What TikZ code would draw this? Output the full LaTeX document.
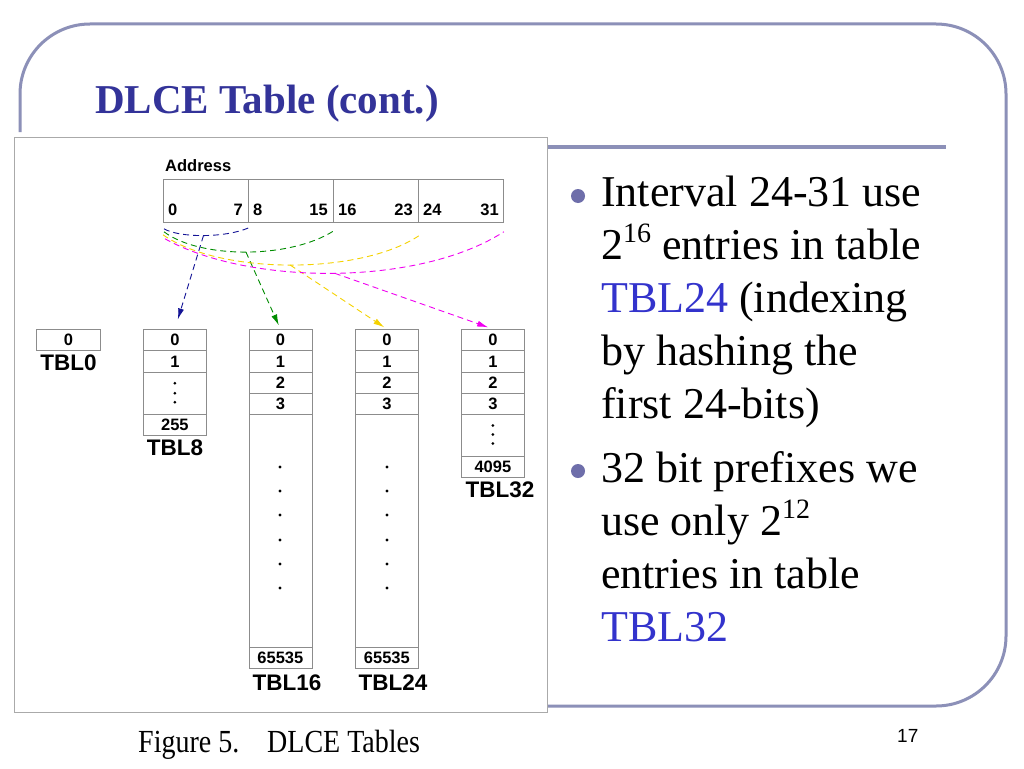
\documentclass[tikz,border=0pt]{standalone}
\usepackage{fontspec}
\setmainfont{Liberation Serif}
\setsansfont{Liberation Sans}
\usetikzlibrary{arrows.meta,calc}
\definecolor{framec}{RGB}{140,144,184}
\definecolor{titlec}{RGB}{51,51,153}
\definecolor{linkc}{RGB}{51,51,204}
\definecolor{bulletc}{RGB}{110,110,170}
\definecolor{boxgray}{RGB}{140,140,140}
\definecolor{figgray}{RGB}{170,170,170}
\definecolor{arrblue}{RGB}{20,20,150}
\definecolor{arrgreen}{RGB}{0,140,0}
\definecolor{arryellow}{RGB}{245,210,0}
\definecolor{arrmag}{RGB}{240,0,240}
\begin{document}
\begin{tikzpicture}[x=1pt,y=-1pt,
  cell/.style={draw=boxgray, line width=0.8pt, anchor=north west, minimum width=63pt, minimum height=21.3pt, inner sep=0pt, font=\sffamily\bfseries\fontsize{16.5}{16.5}\selectfont},
  field/.style={draw=boxgray, line width=0.8pt, anchor=north west, minimum width=85pt, minimum height=43pt, inner sep=0pt},
  fnum/.style={inner sep=0pt, font=\sffamily\bfseries\fontsize{16.5}{16.5}\selectfont},
  tlabel/.style={inner sep=0pt, font=\sffamily\bfseries\fontsize{22.5}{22.5}\selectfont},
  conn/.style={line width=0.9pt, dash pattern=on 6pt off 4pt},
  tip/.style={-{Latex[length=11pt,width=6pt]}},
  btext/.style={anchor=base west, inner sep=0pt, font=\fontsize{44}{53}\selectfont},
  captext/.style={anchor=base west, inner sep=0pt, font=\fontsize{28}{28}\selectfont},
  vdot/.style={fill=black},
]
\useasboundingbox (0,0) rectangle (1024,768);
\fill[white] (0,0) rectangle (1024,768);
% slide frame
\draw[framec, line width=3pt, rounded corners=70pt] (20,132) -- (20,24) -- (1006,24) -- (1006,706) -- (548,706);
\draw[framec, line width=4.5pt] (547,147) -- (946,147);
% title
\node[anchor=base west, inner sep=0pt, text=titlec, font=\bfseries\fontsize{41}{41}\selectfont] (title) at (95,113) {DLCE Table (cont.)};
% figure box
\draw[figgray, fill=white, line width=1pt] (14,137) rectangle (547,712);
% address
\node[anchor=base west, fnum] (addr) at (165,171) {Address};
\node[field] (f0) at (163,179) {};
\node[field] (f1) at (248,179) {};
\node[field] (f2) at (333,179) {};
\node[field] (f3) at (418,179) {};
\node[fnum, anchor=base west] (n0) at (168,215) {0};
\node[fnum, anchor=base east] (n7) at (243,215) {7};
\node[fnum, anchor=base west] (n8) at (253,215) {8};
\node[fnum, anchor=base east] (n15) at (328,215) {15};
\node[fnum, anchor=base west] (n16) at (338,215) {16};
\node[fnum, anchor=base east] (n23) at (413,215) {23};
\node[fnum, anchor=base west] (n24) at (423,215) {24};
\node[fnum, anchor=base east] (n31) at (499,215) {31};
% TBL0
\node[cell, minimum width=64pt] (t0a) at (36,329) {0};
\node[tlabel] (l0) at (68.5,363) {TBL0};
% TBL8
\node[cell] (t8a) at (143,329) {0};
\node[cell] (t8b) at (143,350.3) {1};
\node[cell, minimum height=42.4pt] (t8c) at (143,371.6) {};
\node[cell] (t8d) at (143,414) {255};
\fill[vdot] ($(t8c.center)+(0,-10)$) circle (1.5);
\fill[vdot] ($(t8c.center)+(0,0)$) circle (1.5);
\fill[vdot] ($(t8c.center)+(0,9)$) circle (1.5);
\node[tlabel] (l8) at (175,448) {TBL8};
% TBL16
\node[cell] (t16a) at (248.5,329) {0};
\node[cell] (t16b) at (248.5,350.3) {1};
\node[cell] (t16c) at (248.5,371.6) {2};
\node[cell] (t16d) at (248.5,392.9) {3};
\node[cell, minimum height=232.8pt] (t16e) at (248.5,414.2) {};
\node[cell] (t16f) at (248.5,647) {65535};
\foreach \yy in {467,491,515,540,564,588} \fill[vdot] (280,\yy) circle (1.6);
\node[tlabel] (l16) at (287,683) {TBL16};
% TBL24
\node[cell] (t24a) at (355,329) {0};
\node[cell] (t24b) at (355,350.3) {1};
\node[cell] (t24c) at (355,371.6) {2};
\node[cell] (t24d) at (355,392.9) {3};
\node[cell, minimum height=232.8pt] (t24e) at (355,414.2) {};
\node[cell] (t24f) at (355,647) {65535};
\foreach \yy in {467,491,515,540,564,588} \fill[vdot] (387,\yy) circle (1.6);
\node[tlabel] (l24) at (393,683) {TBL24};
% TBL32
\node[cell] (t32a) at (461,329) {0};
\node[cell] (t32b) at (461,350.3) {1};
\node[cell] (t32c) at (461,371.6) {2};
\node[cell] (t32d) at (461,392.9) {3};
\node[cell, minimum height=41.8pt] (t32e) at (461,414.2) {};
\node[cell] (t32f) at (461,456) {4095};
\fill[vdot] ($(t32e.center)+(0,-10)$) circle (1.5);
\fill[vdot] ($(t32e.center)+(0,-1)$) circle (1.5);
\fill[vdot] ($(t32e.center)+(0,8)$) circle (1.5);
\node[tlabel] (l32) at (500,490) {TBL32};
% connectors
\draw[conn, arrblue] ($(f0.south west)+(1,6)$) .. controls (180,238) and (225,238) .. ($(f0.south east)+(0,5)$) coordinate[pos=0.5] (bdip);
\draw[conn, arrblue, tip, shorten >=10pt] (bdip) -- (t8a.north);
\draw[conn, arrgreen] ($(f0.south west)+(1,9)$) .. controls (200,259) and (290,259) .. ($(f1.south east)+(0,8)$) coordinate[pos=0.5] (gdip);
\draw[conn, arrgreen, tip, shorten >=4pt] (gdip) -- (t16a.north);
\draw[conn, arryellow] ($(f0.south west)+(0,12)$) .. controls (220,275) and (360,275) .. ($(f2.south east)+(0,13)$) coordinate[pos=0.5] (ydip);
\draw[conn, arryellow, tip, shorten >=3pt] (ydip) -- (t24a.north);
\draw[conn, arrmag] ($(f0.south west)+(2,16)$) .. controls (250,286) and (420,286) .. ($(f3.south east)+(0,9)$) coordinate[pos=0.5] (mdip);
\draw[conn, arrmag, tip, shorten >=5pt] (mdip) -- (t32a.north);
% caption
\node[captext] (cap1) at (138,752) {\scalebox{1}[1.15]{Figure 5.}};
\node[captext] (cap2) at (267,752) {\scalebox{1}[1.15]{DLCE Tables}};
% bullets
\fill[bulletc] (578,196) circle (7);
\node[btext] (b1a) at (601,206) {Interval 24-31 use};
\node[btext] (b1b) at (601,259) {2\raisebox{17pt}{\fontsize{28}{28}\selectfont 16} entries in table};
\node[btext] (b1c) at (601,312) {\textcolor{linkc}{TBL24} (indexing};
\node[btext] (b1d) at (601,365) {by hashing the};
\node[btext] (b1e) at (601,418) {first 24-bits)};
\fill[bulletc] (578,471) circle (7);
\node[btext] (b2a) at (601,482) {32 bit prefixes we};
\node[btext] (b2b) at (601,535) {use only 2\raisebox{17pt}{\fontsize{28}{28}\selectfont 12}};
\node[btext] (b2c) at (601,588) {entries in table};
\node[btext] (b2d) at (601,641) {\textcolor{linkc}{TBL32}};
% page number
\node[anchor=base west, inner sep=0pt, font=\sffamily\fontsize{19}{19}\selectfont] (pnum) at (897,742) {17};
\end{tikzpicture}
\end{document}
